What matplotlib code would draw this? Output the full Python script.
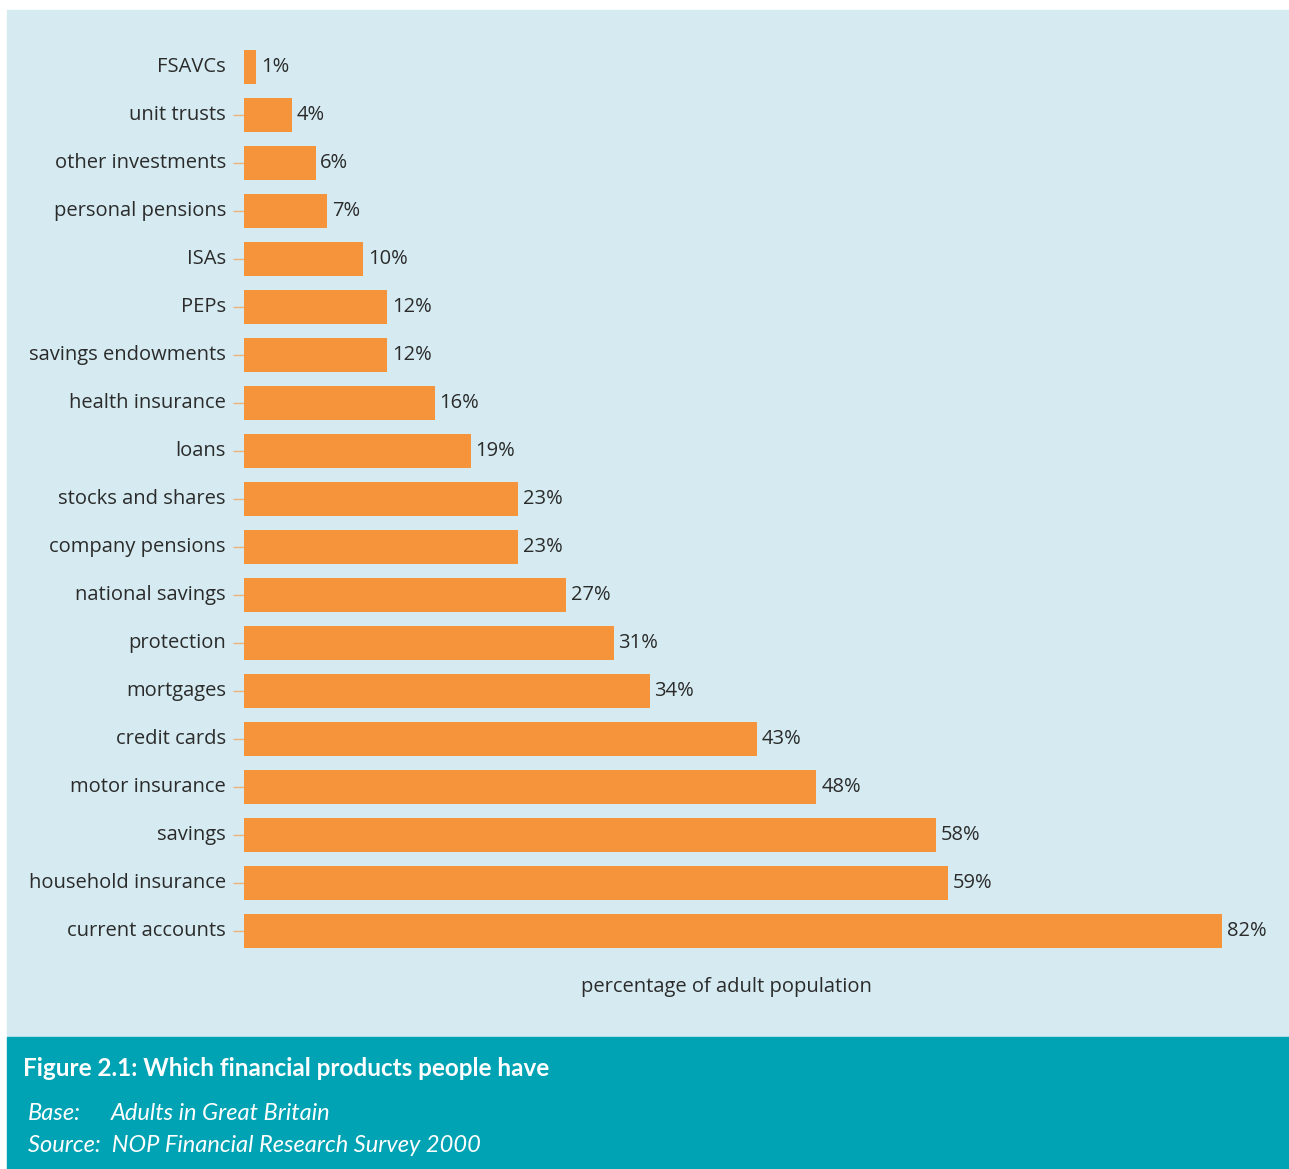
import matplotlib
matplotlib.use('Agg')
import matplotlib.pyplot as plt
import matplotlib.transforms as mtransforms
from matplotlib.patches import Rectangle

products = ['FSAVCs', 'unit trusts', 'other investments', 'personal pensions',
            'ISAs', 'PEPs', 'savings endowments', 'health insurance', 'loans',
            'stocks and shares', 'company pensions', 'national savings',
            'protection', 'mortgages', 'credit cards', 'motor insurance',
            'savings', 'household insurance', 'current accounts']
share = [1, 4, 6, 7, 10, 12, 12, 16, 19, 23, 23, 27, 31, 34, 43, 48, 58, 59, 82]

panel_blue = '#d5ebf1'
banner_teal = '#00a3b3'
bar_orange = '#f5943a'
text_grey = '#2b2b2b'

W, H = 1289, 1169
fig = plt.figure(figsize=(W / 100, H / 100), dpi=100, facecolor='white')

# background panel and caption strip, kept behind the axes
fig.patches.append(Rectangle((7 / W, 1 - 1037 / H), 1282 / W, 1027 / H,
                             transform=fig.transFigure, color=panel_blue, zorder=-2))
fig.patches.append(Rectangle((7 / W, 0), 1282 / W, 132 / H,
                             transform=fig.transFigure, color=banner_teal, zorder=-2))

ax = fig.add_axes([244 / W, 1 - 955 / H, (1222 - 244) / W, 912 / H])
ax.set_facecolor('none')

ypos = list(range(len(products)))
ax.barh(ypos, share, height=0.72, color=bar_orange, zorder=2)
ax.set_xlim(0, 82)
ax.set_ylim(len(products) - 0.5, -0.5)

for y, v in zip(ypos, share):
    ax.text(v + 0.4, y, f'{v}%', va='center', ha='left', fontsize=14.5,
            color=text_grey, family='Open Sans')

ax.set_yticks(ypos)
ax.set_yticklabels(products, fontsize=14.5, color=text_grey, family='Open Sans')
ax.tick_params(axis='y', length=8, width=1, color='#f0b27a', pad=5)
ax.yaxis.get_major_ticks()[0].tick1line.set_visible(False)
# nudge category names up a touch so they sit level with the bars
nudge = mtransforms.ScaledTranslation(0, 2 / 72, fig.dpi_scale_trans)
for lbl in ax.get_yticklabels():
    lbl.set_transform(lbl.get_transform() + nudge)
ax.set_xticks([])
for s in ax.spines.values():
    s.set_visible(False)

fig.text(726 / W, 1 - 987 / H, 'percentage of adult population', ha='center',
         va='center', fontsize=14.5, color=text_grey, family='Open Sans')

fig.text(23 / W, 1 - 1069 / H, 'Figure 2.1: Which financial products people have',
         ha='left', va='center', fontsize=17.5, fontweight='bold', color='white',
         family='Lato')
fig.text(28 / W, 1 - 1113 / H, 'Base:', ha='left', va='center', fontsize=17,
         style='italic', color='white', family='Lato')
fig.text(111 / W, 1 - 1113 / H, 'Adults in Great Britain', ha='left', va='center',
         fontsize=17, style='italic', color='white', family='Lato')
fig.text(28 / W, 1 - 1145 / H, 'Source:  NOP Financial Research Survey 2000',
         ha='left', va='center', fontsize=17, style='italic', color='white',
         family='Lato')

fig.savefig('out.png', dpi=100, facecolor='white')
